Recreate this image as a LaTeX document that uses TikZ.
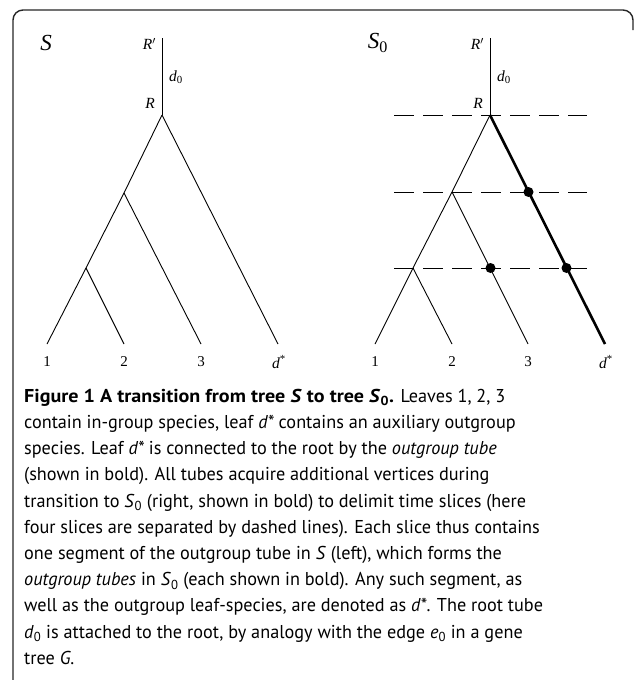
\documentclass[tikz,border=0pt]{standalone}
\usepackage{fontspec}
\setmainfont{Liberation Serif}
\newfontfamily\capfont[FakeStretch=0.98]{PT Sans}
\newfontfamily\capheadfont[FakeStretch=1.08]{PT Sans}
\begin{document}
\begin{tikzpicture}[x=1pt,y=-1pt,
  edge/.style={line width=0.9pt,black},
  boldedge/.style={line width=2.6pt,black},
  slice/.style={line width=0.9pt,dash pattern=on 20pt off 9pt},
  dot/.style={circle,fill=black,inner sep=0pt,minimum size=10pt},
  lbl/.style={font=\fontsize{15}{15}\selectfont,inner sep=0pt},
  captext/.style={font=\capfont\fontsize{18.6}{20}\selectfont,anchor=mid west,inner sep=0pt},
  frame/.style={line width=1.4pt,black!85,rounded corners=10pt}]
\useasboundingbox (0,0) rectangle (635,680);
% frame
\draw[frame] (13,680) -- (13,10) -- (633,10) -- (633,30);
% ---------- left tree S
\coordinate (lRp) at (162,38);
\coordinate (lR) at (162,115);
\coordinate (la) at (124,193);
\coordinate (lb) at (86,268);
\coordinate (l1) at (47,344);
\coordinate (l2) at (124,344);
\coordinate (l3) at (201,344);
\coordinate (ld) at (278,344);
\draw[edge] (lRp) -- (lR);
\draw[edge] (lR) -- (la);
\draw[edge] (la) -- (lb);
\draw[edge] (lb) -- (l1);
\draw[edge] (lb) -- (l2);
\draw[edge] (la) -- (l3);
\draw[edge] (lR) -- (ld);
\node[lbl,font=\itshape\fontsize{23}{23}\selectfont] (lS) at (46,43) {S};
\node[lbl,anchor=east,font=\itshape\fontsize{15.5}{15.5}\selectfont] (lRpl) at (156,44) {R$'$};
\node[lbl,anchor=west,font=\itshape\fontsize{15.5}{15.5}\selectfont] (ld0) at (169,77) {d\textsubscript{\upshape 0}};
\node[lbl,anchor=east,font=\itshape\fontsize{15.5}{15.5}\selectfont] (lRl) at (155,103) {R};
\node[lbl] (n1) at (47,362) {1};
\node[lbl] (n2) at (124,362) {2};
\node[lbl] (n3) at (201,362) {3};
\node[lbl,font=\itshape\fontsize{15.5}{15.5}\selectfont] (nd) at (279,362) {d\textsuperscript{\upshape *}};
% ---------- right tree S0
\coordinate (rRp) at (490,38);
\coordinate (rR) at (490,115);
\coordinate (ra) at (452,192);
\coordinate (rb) at (413,268);
\coordinate (r1) at (375,344);
\coordinate (r2) at (452,344);
\coordinate (r3) at (528,344);
\coordinate (rd) at (605,344);
\coordinate (s1a) at (394,115); \coordinate (s1b) at (587,115);
\coordinate (s2a) at (394,192); \coordinate (s2b) at (587,192);
\coordinate (s3a) at (394,268); \coordinate (s3b) at (587,268);
\draw[slice] (s1a) -- (s1b);
\draw[slice] (s2a) -- (s2b);
\draw[slice] (s3a) -- (s3b);
\draw[edge] (rRp) -- (rR);
\draw[edge] (rR) -- (ra);
\draw[edge] (ra) -- (rb);
\draw[edge] (rb) -- (r1);
\draw[edge] (rb) -- (r2);
\draw[edge] (ra) -- (r3);
\draw[boldedge] (rR) -- (rd);
\node[dot] (dA) at (528.5,192) {};
\node[dot] (dB) at (566.5,268) {};
\node[dot] (dC) at (490.5,268) {};
\node[lbl,font=\itshape\fontsize{23}{23}\selectfont] (rS) at (378,43) {S\textsubscript{\upshape 0}};
\node[lbl,anchor=east,font=\itshape\fontsize{15.5}{15.5}\selectfont] (rRpl) at (484,44) {R$'$};
\node[lbl,anchor=west,font=\itshape\fontsize{15.5}{15.5}\selectfont] (rd0) at (497,77) {d\textsubscript{\upshape 0}};
\node[lbl,anchor=east,font=\itshape\fontsize{15.5}{15.5}\selectfont] (rRl) at (483,103) {R};
\node[lbl] (m1) at (375,362) {1};
\node[lbl] (m2) at (452,362) {2};
\node[lbl] (m3) at (528,362) {3};
\node[lbl,font=\itshape\fontsize{15.5}{15.5}\selectfont] (md) at (606,362) {d\textsuperscript{\upshape *}};
% ---------- caption
\node[captext] (c1) at (24,400) {{\capheadfont\bfseries Figure 1 A transition from tree \textit{S} to tree \textit{S}\textsubscript{0}.} Leaves 1, 2, 3};
\node[captext] (c2) at (24,426.2) {contain in-group species, leaf \textit{d*} contains an auxiliary outgroup};
\node[captext] (c3) at (24,452.4) {species. Leaf \textit{d*} is connected to the root by the \textit{outgroup tube}};
\node[captext] (c4) at (24,478.6) {(shown in bold). All tubes acquire additional vertices during};
\node[captext] (c5) at (24,504.8) {transition to \textit{S}\textsubscript{0} (right, shown in bold) to delimit time slices (here};
\node[captext] (c6) at (24,531) {four slices are separated by dashed lines). Each slice thus contains};
\node[captext] (c7) at (24,557.2) {one segment of the outgroup tube in \textit{S} (left), which forms the};
\node[captext] (c8) at (24,583.4) {\textit{outgroup tubes} in \textit{S}\textsubscript{0} (each shown in bold). Any such segment, as};
\node[captext] (c9) at (24,609.6) {well as the outgroup leaf-species, are denoted as \textit{d*}. The root tube};
\node[captext] (c10) at (24,635.8) {\textit{d}\textsubscript{0} is attached to the root, by analogy with the edge \textit{e}\textsubscript{0} in a gene};
\node[captext] (c11) at (24,662) {tree \textit{G}.};
\end{tikzpicture}
\end{document}
